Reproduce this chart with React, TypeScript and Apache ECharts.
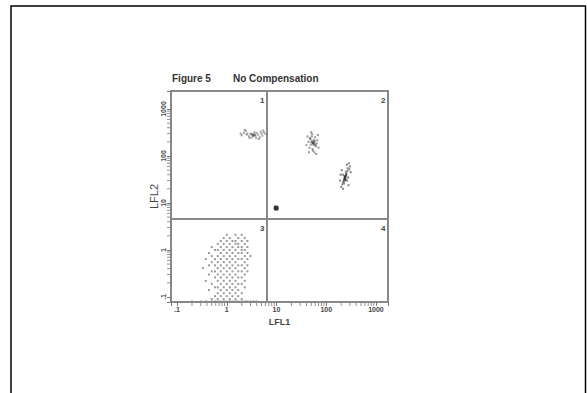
import React, { useEffect, useRef } from "react";
import * as echarts from "echarts";

const titleLeft = "Figure 5";
const titleRight = "No Compensation";
const xName = "LFL1";
const yName = "LFL2";
const quadrantLabels = ["1", "2", "3", "4"];
const xRange = [0.0757, 1746];
const yRange = [0.078, 2417];
const quadrantX = 6.4;
const quadrantY = 4.6;
const logMinorTicks = [
  0.2, 0.3, 0.4, 0.5, 0.6, 0.7, 0.8, 0.9,
  2, 3, 4, 5, 6, 7, 8, 9,
  20, 30, 40, 50, 60, 70, 80, 90,
  200, 300, 400, 500, 600, 700, 800, 900,
];

// Quadrant 1 population
const popUL: number[][] = [
  [3.4, 280], [3.0, 290], [3.8, 270], [2.6, 300], [4.3, 285], [2.2, 310], [5.0, 300], [5.6, 320],
  [2.0, 275], [3.2, 250], [3.6, 320], [2.8, 260], [4.6, 250], [2.4, 340], [5.2, 270], [3.1, 300],
  [3.5, 265], [3.3, 290], [3.7, 285], [4.0, 310], [2.5, 285], [6.0, 295], [4.8, 330], [1.9, 300],
  [3.9, 240], [3.4, 275], [3.5, 285], [3.3, 280], [2.3, 360], [4.4, 230], [5.4, 350], [2.9, 240],
];
// Quadrant 2 populations
const popUR1: number[][] = [
  [54, 189], [50, 200], [58, 180], [52, 210], [56, 170], [48, 230], [60, 250], [62, 160],
  [46, 150], [53, 140], [57, 220], [51, 260], [55, 195], [59, 205], [49, 175], [64, 185],
  [44, 200], [66, 215], [54, 130], [52, 290], [58, 120], [47, 240], [61, 170], [53, 185],
  [56, 195], [54, 192], [55, 186], [42, 260], [70, 150], [45, 120], [68, 280], [50, 320],
  [63, 110], [40, 170],
];
const popUR2: number[][] = [
  [238, 34], [230, 32], [245, 37], [225, 30], [250, 40], [220, 28], [255, 42], [240, 36],
  [235, 33], [242, 31], [232, 38], [210, 25], [265, 48], [260, 30], [215, 40], [270, 55],
  [200, 22], [275, 35], [248, 45], [228, 26], [236, 36], [244, 33], [239, 35], [233, 30],
  [252, 39], [238, 35], [241, 36], [234, 32], [190, 30], [300, 60], [285, 70], [205, 50],
  [280, 24], [195, 40], [310, 45], [260, 65], [218, 20], [290, 52],
];
const popDot: number[][] = [
  [9.8, 7.8], [9.5, 7.5], [10.2, 8.1], [9.6, 8.2], [10.1, 7.4], [9.9, 7.9], [9.4, 7.9], [10.3, 7.7],
  [9.8, 7.6], [10.0, 8.0],
];
// Quadrant 3 (unstained) cloud, row by row
const cloudRowY = [2.1, 1.8, 1.55, 1.35, 1.15, 1.0, 0.86, 0.74, 0.64, 0.55, 0.47, 0.41, 0.35, 0.3, 0.26, 0.22, 0.19, 0.16, 0.14, 0.12, 0.104, 0.09, 0.08];
const cloudRowX: number[][] = [
  [1.0, 1.5, 2.0],
  [0.87, 1.15, 1.7, 2.3],
  [0.76, 1.0, 1.3, 1.5, 2.0, 2.6],
  [0.66, 0.87, 1.15, 1.5, 1.7, 2.3],
  [0.5, 0.76, 1.0, 1.3, 1.7, 2.0, 2.6],
  [0.58, 0.66, 0.87, 1.15, 1.5, 2.0, 2.3],
  [0.44, 0.76, 1.0, 1.3, 1.7, 2.0, 2.6],
  [0.5, 0.66, 0.87, 1.15, 1.5, 2.3, 3.0],
  [0.38, 0.58, 0.76, 1.0, 1.3, 1.7, 2.0, 2.6],
  [0.5, 0.66, 0.87, 1.15, 1.5, 2.3],
  [0.44, 0.58, 0.76, 1.0, 1.3, 1.7, 2.0, 2.6],
  [0.33, 0.66, 0.87, 1.15, 1.5, 2.3],
  [0.5, 0.58, 0.76, 1.0, 1.3, 1.7, 2.0, 2.6],
  [0.44, 0.66, 0.87, 1.15, 1.5, 2.3],
  [0.58, 0.76, 1.0, 1.3, 1.7, 2.0],
  [0.38, 0.66, 0.87, 1.15, 1.5, 2.3],
  [0.5, 0.76, 1.0, 1.3, 1.7, 2.0],
  [0.58, 0.66, 0.87, 1.15, 1.5, 2.3],
  [0.44, 0.76, 1.0, 1.3, 1.7],
  [0.66, 0.87, 1.15, 1.5, 2.0],
  [0.58, 0.76, 1.0, 1.3, 1.7],
  [0.5, 0.66, 0.87, 1.15, 1.5, 2.0],
  [0.2, 0.3, 0.38, 0.5, 0.58, 0.66, 0.76, 0.87, 1.0, 1.15, 1.3, 1.5, 1.7, 2.0, 2.3, 2.6, 3.0, 3.5, 4.0],
];

const fmtLog = (v: number) => {
  const l = Math.log10(v);
  if (Math.abs(l - Math.round(l)) > 0.02) return "";
  const p = Math.round(l);
  return p < 0 ? ".1" : String(Math.pow(10, p));
};

export default function App() {
  const ref = useRef<HTMLDivElement>(null);
  useEffect(() => {
    if (!ref.current) return;
    const chart = echarts.init(ref.current, undefined, { renderer: "svg" });
    const cloud: number[][] = [];
    cloudRowY.forEach((y, i) => cloudRowX[i].forEach((x) => cloud.push([x, y])));
    const axisCommon = {
      type: "log" as const,
      logBase: 10,
      axisLine: { show: true, lineStyle: { color: "#888", width: 2 } },
      axisTick: { show: true, length: 4, lineStyle: { color: "#777", width: 1 } },
      splitLine: { show: false },
    };
    const dotStyle = (c: string, o: number) => ({ color: c, opacity: o });
    chart.setOption({
      animation: false,
      backgroundColor: "#fff",
      grid: { left: 171, top: 91, width: 217, height: 211, show: true, borderColor: "#888", borderWidth: 2, backgroundColor: "transparent" },
      xAxis: {
        ...axisCommon,
        min: xRange[0],
        max: xRange[1],
        name: xName,
        nameLocation: "middle",
        nameGap: 13,
        nameTextStyle: { fontSize: 9, fontWeight: "bold", color: "#444", fontFamily: "Liberation Sans" },
        axisLabel: { formatter: fmtLog, fontSize: 7, fontWeight: "bold", color: "#444", margin: 4, fontFamily: "Liberation Sans" },
      },
      yAxis: {
        ...axisCommon,
        min: yRange[0],
        max: yRange[1],
        name: yName,
        nameLocation: "middle",
        nameGap: 12,
        nameTextStyle: { fontSize: 11, color: "#444", fontFamily: "Liberation Sans" },
        axisLabel: { formatter: fmtLog, fontSize: 7, fontWeight: "bold", color: "#444", rotate: 90, margin: 4, fontFamily: "Liberation Sans" },
      },
      series: [
        {
          type: "scatter",
          data: cloud,
          symbol: "rect",
          symbolSize: 2,
          itemStyle: dotStyle("#888", 0.85),
          silent: true,
          markLine: {
            silent: true,
            symbol: "none",
            label: { show: false },
            lineStyle: { color: "#888", width: 2, type: "solid" },
            data: [{ xAxis: quadrantX }, { yAxis: quadrantY }],
          },
        },
        { type: "scatter", data: popUL, symbol: "rect", symbolSize: 2, itemStyle: dotStyle("#555", 0.55), silent: true },
        { type: "scatter", data: popUR1, symbol: "rect", symbolSize: 2, itemStyle: dotStyle("#444", 0.55), silent: true },
        { type: "scatter", data: popUR2, symbol: "rect", symbolSize: 2, itemStyle: dotStyle("#333", 0.6), silent: true },
        { type: "scatter", data: popDot, symbol: "rect", symbolSize: 3, itemStyle: dotStyle("#333", 0.8), silent: true },
        {
          type: "scatter",
          data: logMinorTicks.map((v) => [v, yRange[0]]),
          symbol: "rect",
          symbolSize: [1, 3],
          symbolOffset: [0, 2.5],
          clip: false,
          itemStyle: { color: "#777" },
          silent: true,
        },
        {
          type: "scatter",
          data: logMinorTicks.map((v) => [xRange[0], v]),
          symbol: "rect",
          symbolSize: [3, 1],
          symbolOffset: [-2.5, 0],
          clip: false,
          itemStyle: { color: "#777" },
          silent: true,
        },
      ],
      graphic: [
        { type: "rect", shape: { x: 11, y: 6, width: 574.5, height: 420 }, style: { fill: "none", stroke: "#000", lineWidth: 1.5 } },
        { type: "text", left: 172, top: 73, style: { text: titleLeft, fontSize: 10, fontWeight: "bold", fill: "#333", fontFamily: "Liberation Sans" } },
        { type: "text", left: 233, top: 73, style: { text: titleRight, fontSize: 10, fontWeight: "bold", fill: "#333", fontFamily: "Liberation Sans" } },
        { type: "text", left: 260, top: 96, style: { text: quadrantLabels[0], fontSize: 8, fontWeight: "bold", fill: "#444" } },
        { type: "text", left: 381, top: 96, style: { text: quadrantLabels[1], fontSize: 8, fontWeight: "bold", fill: "#444" } },
        { type: "text", left: 260, top: 224, style: { text: quadrantLabels[2], fontSize: 8, fontWeight: "bold", fill: "#444" } },
        { type: "text", left: 381, top: 224, style: { text: quadrantLabels[3], fontSize: 8, fontWeight: "bold", fill: "#444" } },
      ],
    });
    return () => chart.dispose();
  }, []);
  return <div ref={ref} style={{ position: "fixed", left: 0, top: 0, width: 587, height: 393 }} />;
}
